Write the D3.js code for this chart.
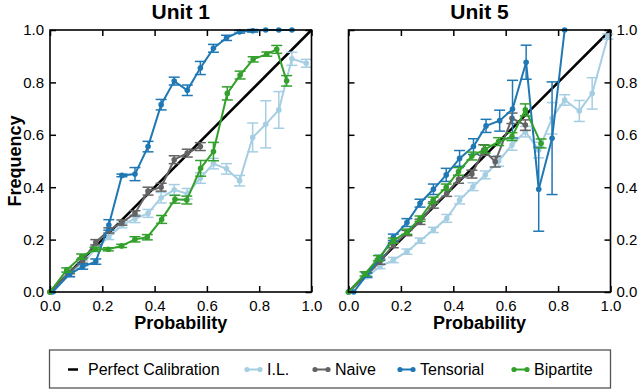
<!DOCTYPE html>
<html><head><meta charset="utf-8">
<script src="https://cdn.jsdelivr.net/npm/d3@7"></script>
<style>body{margin:0;background:#fff}svg{display:block;font-family:"Liberation Sans",Arial,Helvetica,sans-serif}</style>
</head><body><svg id="c" width="640" height="391"></svg>
<script>
// ---- data ----
const tickValues = [0, 0.2, 0.4, 0.6, 0.8, 1.0];
const panelTitles = ["Unit 1", "Unit 5"];
const seriesNames = ["I.L.", "Naive", "Tensorial", "Bipartite"];
const seriesColors = ["#a6cee3", "#636363", "#1f78b4", "#33a02c"];

// Unit 1
const u1_il_x = [0, 0.075, 0.125, 0.175, 0.225, 0.275, 0.325, 0.375, 0.425, 0.475, 0.525, 0.575, 0.625, 0.675, 0.725, 0.775, 0.825, 0.875, 0.925, 0.98];
const u1_il_y = [0, 0.07, 0.11, 0.165, 0.21, 0.255, 0.28, 0.30, 0.36, 0.39, 0.375, 0.435, 0.49, 0.47, 0.425, 0.59, 0.64, 0.695, 0.89, 0.873];
const u1_il_e = [0, 0.01, 0.01, 0.01, 0.01, 0.01, 0.015, 0.015, 0.02, 0.02, 0.02, 0.02, 0.02, 0.02, 0.02, 0.055, 0.09, 0.07, 0.025, 0.015];

const u1_nv_x = [0, 0.075, 0.125, 0.175, 0.225, 0.275, 0.325, 0.375, 0.425, 0.475, 0.525, 0.575];
const u1_nv_y = [0, 0.075, 0.12, 0.19, 0.235, 0.265, 0.30, 0.385, 0.40, 0.505, 0.53, 0.555];
const u1_nv_e = [0, 0.005, 0.01, 0.01, 0.01, 0.01, 0.01, 0.015, 0.015, 0.015, 0.015, 0.015];

const u1_tn_x = [0.01, 0.075, 0.125, 0.175, 0.225, 0.275, 0.325, 0.375, 0.425, 0.475, 0.525, 0.575, 0.625, 0.675, 0.725, 0.775, 0.825, 0.875, 0.925];
const u1_tn_y = [0, 0.068, 0.097, 0.116, 0.256, 0.445, 0.45, 0.555, 0.715, 0.805, 0.77, 0.855, 0.93, 0.97, 0.993, 0.997, 1.0, 1.0, 1.0];
const u1_tn_e = [0, 0.01, 0.01, 0.01, 0.02, 0.005, 0.025, 0.02, 0.02, 0.015, 0.02, 0.025, 0.015, 0.01, 0.005, 0.005, 0, 0, 0];

const u1_bp_x = [0, 0.064, 0.121, 0.172, 0.223, 0.274, 0.325, 0.372, 0.427, 0.478, 0.523, 0.576, 0.625, 0.678, 0.727, 0.777, 0.829, 0.867, 0.905];
const u1_bp_y = [0, 0.084, 0.135, 0.163, 0.163, 0.176, 0.201, 0.209, 0.277, 0.354, 0.351, 0.472, 0.536, 0.758, 0.828, 0.888, 0.908, 0.926, 0.806];
const u1_bp_e = [0, 0.008, 0.01, 0.008, 0.006, 0.006, 0.01, 0.01, 0.015, 0.015, 0.015, 0.03, 0.035, 0.025, 0.015, 0.01, 0.008, 0.015, 0.02];

// Unit 5
const u5_il_x = [0, 0.07, 0.12, 0.171, 0.223, 0.273, 0.324, 0.375, 0.424, 0.475, 0.522, 0.573, 0.624, 0.675, 0.726, 0.777, 0.825, 0.881, 0.93, 0.99];
const u5_il_y = [0, 0.058, 0.097, 0.122, 0.154, 0.196, 0.237, 0.281, 0.351, 0.402, 0.447, 0.50, 0.561, 0.612, 0.542, 0.663, 0.733, 0.691, 0.758, 0.975];
const u5_il_e = [0, 0.005, 0.008, 0.01, 0.01, 0.01, 0.01, 0.015, 0.015, 0.015, 0.015, 0.02, 0.02, 0.02, 0.03, 0.06, 0.02, 0.04, 0.06, 0.01];

const u5_nv_x = [0, 0.07, 0.12, 0.171, 0.223, 0.273, 0.324, 0.375, 0.42, 0.471, 0.516, 0.56, 0.624, 0.675];
const u5_nv_y = [0, 0.065, 0.116, 0.179, 0.225, 0.268, 0.332, 0.377, 0.43, 0.45, 0.542, 0.497, 0.663, 0.637];
const u5_nv_e = [0, 0.008, 0.01, 0.01, 0.01, 0.01, 0.012, 0.012, 0.015, 0.015, 0.02, 0.02, 0.02, 0.02];

const u5_tn_x = [0.02, 0.07, 0.12, 0.171, 0.223, 0.273, 0.324, 0.373, 0.424, 0.477, 0.525, 0.577, 0.626, 0.678, 0.726, 0.777, 0.825];
const u5_tn_y = [0, 0.065, 0.13, 0.209, 0.265, 0.339, 0.392, 0.447, 0.51, 0.555, 0.634, 0.654, 0.698, 0.877, 0.392, 0.587, 1.0];
const u5_tn_e = [0, 0.008, 0.01, 0.012, 0.015, 0.015, 0.02, 0.025, 0.03, 0.03, 0.025, 0.04, 0.11, 0.065, 0.16, 0.215, 0];

const u5_bp_x = [0, 0.063, 0.114, 0.171, 0.223, 0.273, 0.323, 0.373, 0.42, 0.471, 0.522, 0.573, 0.624, 0.675, 0.735];
const u5_bp_y = [0, 0.069, 0.129, 0.196, 0.23, 0.28, 0.35, 0.40, 0.46, 0.519, 0.545, 0.574, 0.593, 0.695, 0.567];
const u5_bp_e = [0, 0.008, 0.01, 0.01, 0.01, 0.01, 0.012, 0.012, 0.015, 0.015, 0.015, 0.015, 0.015, 0.023, 0.017];

// ---- build ----
function zipSeries(xs, ys, es) { return xs.map((x, i) => ({x: x, y: ys[i], e: es[i]})); }
const panels = [
  {title: panelTitles[0], left: 50, right: 311.5, yLabels: "left",
   series: [zipSeries(u1_il_x, u1_il_y, u1_il_e), zipSeries(u1_nv_x, u1_nv_y, u1_nv_e),
            zipSeries(u1_tn_x, u1_tn_y, u1_tn_e), zipSeries(u1_bp_x, u1_bp_y, u1_bp_e)]},
  {title: panelTitles[1], left: 348.5, right: 610.5, yLabels: "right",
   series: [zipSeries(u5_il_x, u5_il_y, u5_il_e), zipSeries(u5_nv_x, u5_nv_y, u5_nv_e),
            zipSeries(u5_tn_x, u5_tn_y, u5_tn_e), zipSeries(u5_bp_x, u5_bp_y, u5_bp_e)]}
];
const plotTop = 30, plotBottom = 292;
const svg = d3.select("#c");
const fmt = d3.format(".1f");

panels.forEach(p => {
  const x = d3.scaleLinear().domain([0, 1]).range([p.left, p.right]);
  const y = d3.scaleLinear().domain([0, 1]).range([plotBottom, plotTop]);
  const g = svg.append("g");

  const styleAxis = sel => {
    sel.select(".domain").remove();
    sel.selectAll(".tick line").attr("stroke", "#000").attr("stroke-width", 1.5);
    sel.selectAll(".tick text").attr("fill", "#000").style("font-size", "15px");
  };
  g.append("g").attr("transform", `translate(0,${plotBottom})`)
    .call(d3.axisBottom(x).tickValues(tickValues).tickFormat(fmt).tickSizeInner(-6).tickSizeOuter(0).tickPadding(8))
    .call(styleAxis);
  g.append("g").attr("transform", `translate(0,${plotTop})`)
    .call(d3.axisTop(x).tickValues(tickValues).tickFormat("").tickSizeInner(-6).tickSizeOuter(0))
    .call(styleAxis);
  g.append("g").attr("transform", `translate(${p.left},0)`)
    .call(d3.axisLeft(y).tickValues(tickValues).tickFormat(p.yLabels === "left" ? fmt : "").tickSizeInner(-6).tickSizeOuter(0).tickPadding(6))
    .call(styleAxis);
  g.append("g").attr("transform", `translate(${p.right},0)`)
    .call(d3.axisRight(y).tickValues(tickValues).tickFormat(p.yLabels === "right" ? fmt : "").tickSizeInner(-6).tickSizeOuter(0).tickPadding(6))
    .call(styleAxis);

  g.append("line").attr("x1", x(0)).attr("y1", y(0)).attr("x2", x(1)).attr("y2", y(1))
    .attr("stroke", "#000").attr("stroke-width", 2.5);

  const line = d3.line().x(d => x(d.x)).y(d => y(d.y));
  p.series.forEach((data, si) => {
    const col = seriesColors[si];
    const sg = g.append("g");
    sg.append("path").datum(data).attr("d", line).attr("fill", "none")
      .attr("stroke", col).attr("stroke-width", 2);
    const eb = sg.selectAll("g.eb").data(data.filter(d => d.e > 0)).join("g").attr("class", "eb");
    eb.append("line").attr("x1", d => x(d.x)).attr("x2", d => x(d.x))
      .attr("y1", d => y(d.y - d.e)).attr("y2", d => y(d.y + d.e))
      .attr("stroke", col).attr("stroke-width", 1.5);
    [1, -1].forEach(s => {
      eb.append("line").attr("x1", d => x(d.x) - 5.5).attr("x2", d => x(d.x) + 5.5)
        .attr("y1", d => y(d.y + s * d.e)).attr("y2", d => y(d.y + s * d.e))
        .attr("stroke", col).attr("stroke-width", 1.5);
    });
    sg.selectAll("circle").data(data).join("circle")
      .attr("cx", d => x(d.x)).attr("cy", d => y(d.y)).attr("r", 2.8).attr("fill", col);
  });

  g.append("rect").attr("x", p.left).attr("y", plotTop).attr("width", p.right - p.left).attr("height", plotBottom - plotTop)
    .attr("fill", "none").attr("stroke", "#000").attr("stroke-width", 1.6);

  const cx = (p.left + p.right) / 2;
  g.append("text").attr("x", cx).attr("y", 19).attr("text-anchor", "middle")
    .style("font-size", "21px").style("font-weight", "bold").text(p.title);
  g.append("text").attr("x", cx).attr("y", 329).attr("text-anchor", "middle")
    .style("font-size", "18px").style("font-weight", "bold").text("Probability");
});

svg.append("text").attr("transform", "translate(21,161) rotate(-90)").attr("text-anchor", "middle")
  .style("font-size", "18px").style("font-weight", "bold").text("Frequency");

const lg = svg.append("g");
lg.append("rect").attr("x", 49.5).attr("y", 350).attr("width", 561).attr("height", 38)
  .attr("fill", "#fff").attr("stroke", "#555").attr("stroke-width", 1.3);
const ly = 369.5;
lg.append("line").attr("x1", 68).attr("x2", 78).attr("y1", ly).attr("y2", ly).attr("stroke", "#000").attr("stroke-width", 2.5);
lg.append("text").attr("x", 88).attr("y", ly).attr("dy", "0.35em").style("font-size", "16px").text("Perfect Calibration");
const legendMarkX = [245, 313, 398, 512];
seriesNames.forEach((n, i) => {
  const mx = legendMarkX[i], col = seriesColors[i];
  lg.append("line").attr("x1", mx + 2).attr("x2", mx + 15).attr("y1", ly).attr("y2", ly).attr("stroke", col).attr("stroke-width", 2);
  lg.append("circle").attr("cx", mx + 2).attr("cy", ly).attr("r", 2.6).attr("fill", col);
  lg.append("circle").attr("cx", mx + 15).attr("cy", ly).attr("r", 2.6).attr("fill", col);
  lg.append("text").attr("x", mx + 22).attr("y", ly).attr("dy", "0.35em").style("font-size", "16px").text(n);
});
</script></body></html>
